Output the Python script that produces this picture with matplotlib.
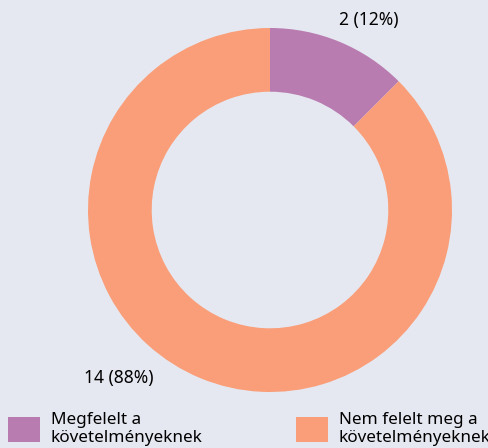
import matplotlib.pyplot as plt
from matplotlib.patches import Patch

# ========== DATOS ==========
categorias = ["Megfelelt a\nkövetelményeknek", "Nem felelt meg a\nkövetelményeknek"]
valores = [2, 14]
colores = ["#b87cb0", "#f99e78"]
fondo = "#e6e8f1"

plt.rcParams['font.family'] = ['Noto Sans', 'DejaVu Sans']

fig = plt.figure(figsize=(4.89, 4.48), dpi=100, facecolor=fondo)
ax = fig.add_axes([88 / 489, 56 / 448, 364 / 489, 364 / 448])
ax.set_facecolor(fondo)

wedges, _ = ax.pie(valores, colors=colores, startangle=90, counterclock=False,
                   wedgeprops=dict(width=0.35, edgecolor='none'))
ax.set_xlim(-1, 1)
ax.set_ylim(-1, 1)
ax.set_aspect('equal')
ax.set_clip_on(False)

total = sum(valores)
etiquetas = [f"{v} ({round(100 * v / total)}%)" for v in valores]
# posiciones de las etiquetas (coordenadas de datos)
pos = [(0.54, 1.045), (-0.832, -0.923)]
for txt, (x, y) in zip(etiquetas, pos):
    ax.text(x, y, txt, ha='center', va='center', fontsize=12.5, color='black',
            clip_on=False)

# Leyenda manual
kw = dict(loc='upper left', frameon=False, fontsize=12.3, handlelength=1.9,
          handleheight=1.9, handletextpad=0.6, borderaxespad=0, borderpad=0,
          labelspacing=0)
fig.legend(handles=[Patch(facecolor=colores[0], edgecolor='none')],
           labels=categorias[:1], bbox_to_anchor=(8 / 489, 1 - 412 / 448), **kw)
fig.legend(handles=[Patch(facecolor=colores[1], edgecolor='none')],
           labels=categorias[1:], bbox_to_anchor=(296 / 489, 1 - 412 / 448), **kw)

fig.savefig("out.png", dpi=100, facecolor=fondo)
